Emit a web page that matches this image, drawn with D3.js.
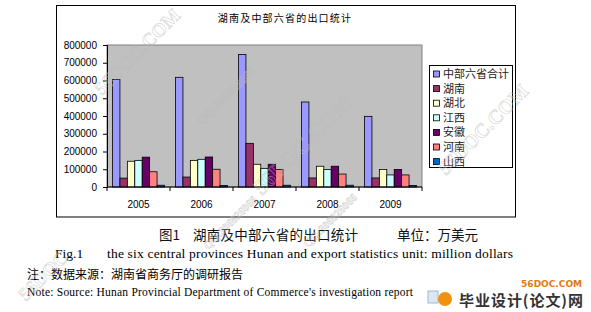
<!DOCTYPE html>
<html>
<head>
<meta charset="utf-8">
<script src="https://cdn.jsdelivr.net/npm/d3@7"></script>
<style>
  body{margin:0;background:#fff;}
  svg{display:block;}
</style>
</head>
<body>
<div id="chart"></div>
<script>
// 数据（万美元）
const years = ['2005','2006','2007','2008','2009'];
const seriesNames = ['中部六省合计','湖南','湖北','江西','安徽','河南','山西'];
const total   = [606000, 618000, 747000, 479000, 398000];
const hunan   = [50000, 56000, 246000, 51000, 51000];
const hubei   = [145000, 150000, 128000, 117000, 99000];
const jiangxi = [150000, 156000, 105000, 98000, 68000];
const anhui   = [168000, 169000, 128000, 117000, 99000];
const henan   = [86000, 100000, 98000, 73000, 68000];
const shanxi  = [10000, 9000, 10000, 10000, 9000];
const yTicks = [0,100000,200000,300000,400000,500000,600000,700000,800000];
const colors = ['#9999ff','#993366','#ffffcc','#ccffff','#660066','#ff8080','#0066cc'];

const seriesValues = [total, hunan, hubei, jiangxi, anhui, henan, shanxi];

const W = 591, H = 312;
const _svg = d3.select('#chart').append('svg').attr('width',W).attr('height',H);
const cjk = '"Noto Sans CJK SC", sans-serif';
const serif = '"Liberation Serif", "Times New Roman", serif';

// faint watermarks (drawn first, under everything else)
const marks = [
	{t:'56DOC.COM', x:102, y:96, s:19},
	{t:'QQ:306826066', x:202, y:126, s:12},
	{t:'56DOC.COM', x:262, y:196, s:22},
	{t:'56DOC.COM', x:446, y:176, s:20},
	{t:'56DOC', x:26, y:302, s:19},
	{t:'QQ:306826066', x:208, y:250, s:11},
	{t:'QQ:306826066', x:308, y:248, s:11}
];

// chart frame
_svg.append('rect')
	.attr('x',56.5).attr('y',5.5).attr('width',459).attr('height',211.5)
	.style('fill','#fff').style('stroke','#000').style('stroke-width',1);

const _m = {l:107, r:422, t:45, b:187};

_svg.append('text')
	.attr('x',285).attr('y',22)
	.attr('text-anchor','middle')
	.style('font-family',cjk).style('font-size','10px').style('letter-spacing','1.2px')
	.text('湖南及中部六省的出口统计');

const _scaleX = d3.scaleBand().domain(years).range([_m.l,_m.r]).paddingInner(0.175).paddingOuter(0.0875);
const _scaleS = d3.scaleBand().domain(seriesNames).range([0,_scaleX.bandwidth()]);
const _scaleY = d3.scaleLinear().domain([0,800000]).range([_m.b,_m.t]);

// plot area
_svg.append('rect')
	.attr('x',_m.l).attr('y',_m.t).attr('width',_m.r-_m.l).attr('height',_m.b-_m.t)
	.style('fill','#c0c0c0').style('stroke','#808080').style('stroke-width',1);

// y axis
const yAxis = _svg.append('g')
	.attr('transform',`translate(${_m.l},0)`)
	.call(d3.axisLeft(_scaleY).tickValues(yTicks).tickSize(4).tickPadding(6).tickFormat(d3.format('d')));
yAxis.select('.domain').style('stroke','#000');
yAxis.selectAll('line').style('stroke','#000');
yAxis.selectAll('text').style('font-family','"Liberation Sans", Arial, sans-serif').style('font-size','10px').style('fill','#000');

// bars
const groups = _svg.selectAll('.grp')
	.data(years)
	.enter()
	.append('g').attr('class','grp')
	.attr('transform',d=>`translate(${_scaleX(d)},0)`);
groups.selectAll('rect')
	.data((y,i)=>seriesNames.map((s,k)=>({s:s,k:k,v:seriesValues[k][i]})))
	.enter()
	.append('rect')
	.attr('x',d=>_scaleS(d.s))
	.attr('width',_scaleS.bandwidth())
	.attr('y',d=>_scaleY(d.v))
	.attr('height',d=>_scaleY(0)-_scaleY(d.v))
	.style('fill',d=>colors[d.k])
	.style('stroke','#000')
	.style('stroke-width','0.8px');

// x axis
const step = _scaleX.step();
const xAxis = _svg.append('g').attr('transform',`translate(0,${_m.b})`);
xAxis.append('line').attr('x1',_m.l).attr('x2',_m.r).style('stroke','#000');
xAxis.selectAll('.tk')
	.data(d3.range(years.length+1))
	.enter().append('line')
	.attr('x1',i=>_m.l+i*step).attr('x2',i=>_m.l+i*step)
	.attr('y1',0).attr('y2',4).style('stroke','#000');
xAxis.selectAll('text')
	.data(years)
	.enter().append('text')
	.attr('x',d=>_scaleX(d)+_scaleX.bandwidth()/2)
	.attr('y',21)
	.attr('text-anchor','middle')
	.style('font-family','"Liberation Sans", Arial, sans-serif').style('font-size','10px')
	.text(d=>d);

// legend
const legend = _svg.append('g');
legend.append('rect')
	.attr('x',429.5).attr('y',65.5).attr('width',83).attr('height',102)
	.style('fill','#fff').style('stroke','#000');
const item = legend.selectAll('.item')
	.data(seriesNames)
	.enter().append('g').attr('class','item')
	.attr('transform',(d,i)=>`translate(433,${74+i*14.6})`);
item.append('rect')
	.attr('x',0.5).attr('y',-3).attr('width',6).attr('height',6)
	.style('fill',(d,i)=>colors[i]).style('stroke','#000').style('stroke-width',0.8);
item.append('text')
	.attr('x',10).attr('y',4)
	.style('font-family',cjk).style('font-size','11px').style('fill','#222')
	.text(d=>d);

// captions
const cap = _svg.append('g').style('font-family',cjk).style('font-size','13.5px').style('fill','#111');
cap.append('text').attr('x',159).attr('y',240).text('图1');
cap.append('text').attr('x',193).attr('y',240).attr('textLength',165).text('湖南及中部六省的出口统计');
cap.append('text').attr('x',397).attr('y',240).attr('textLength',81).text('单位：万美元');

_svg.append('text').attr('x',55).attr('y',258)
	.style('font-family',serif).style('font-size','13.5px').text('Fig.1');
_svg.append('text').attr('x',107).attr('y',258).attr('textLength',406)
	.style('font-family',serif).style('font-size','13.5px')
	.text('the six central provinces Hunan and export statistics unit: million dollars');
_svg.append('text').attr('x',27).attr('y',279).attr('textLength',216)
	.style('font-family',cjk).style('font-size','12px')
	.text('注：数据来源：湖南省商务厅的调研报告');
_svg.append('text').attr('x',27).attr('y',296).attr('textLength',386)
	.style('font-family',serif).style('font-size','11.5px')
	.text('Note: Source: Hunan Provincial Department of Commerce\'s investigation report');

// site logo
const logo = _svg.append('g');
logo.append('rect').attr('x',428).attr('y',291).attr('width',10).attr('height',12)
	.style('fill','#dbe8f4').style('stroke','#9fb8d0');
logo.append('circle').attr('cx',445).attr('cy',299).attr('r',7).style('fill','#f0920c');
logo.append('text').attr('x',582).attr('y',287).attr('text-anchor','end')
	.style('font-family','"DejaVu Sans", sans-serif').style('font-weight','bold').style('font-size','9px')
	.style('fill','#e07a10').text('56DOC.COM');
logo.append('text').attr('x',459).attr('y',306).attr('textLength',124)
	.style('font-family',cjk).style('font-weight','bold').style('font-size','15px')
	.style('fill','#333').text('毕业设计(论文)网');

_svg.selectAll('.wm')
	.data(marks)
	.enter().append('text').attr('class','wm')
	.attr('transform',d=>`translate(${d.x},${d.y}) rotate(-45)`)
	.style('font-family',serif).style('font-weight','bold').style('font-size',d=>d.s+'px')
	.style('fill','none').style('stroke','#bbb').style('stroke-width',0.7).style('opacity',0.55)
	.style('pointer-events','none')
	.text(d=>d.t);
</script>
</body>
</html>
